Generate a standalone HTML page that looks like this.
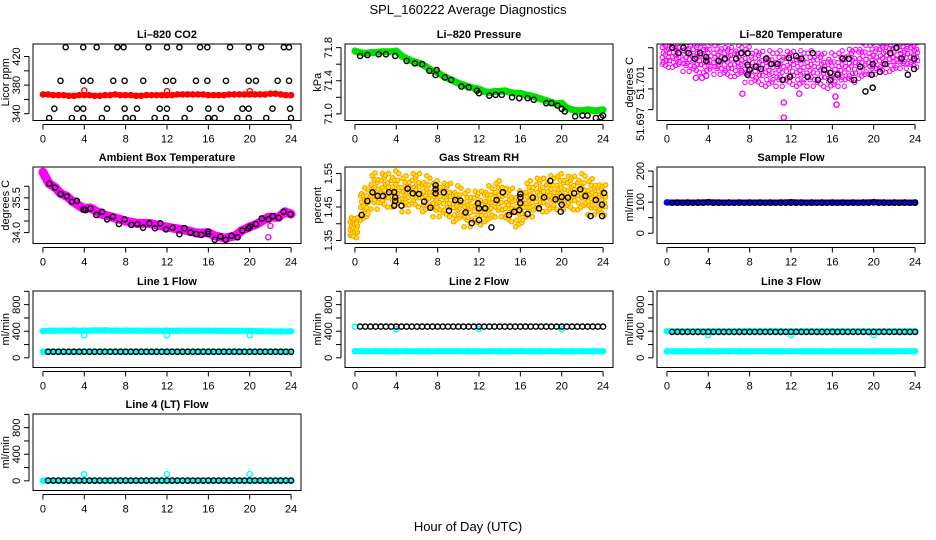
<!DOCTYPE html>
<html><head><meta charset="utf-8"><style>
html,body{margin:0;padding:0;background:#fff;}
svg{display:block;font-family:"Liberation Sans",Arial,sans-serif;}
</style></head><body>
<svg id="chart" width="936" height="540" viewBox="0 0 936 540">
<text x="468" y="14" text-anchor="middle" font-size="13">SPL_160222  Average Diagnostics</text>
<text x="468" y="531" text-anchor="middle" font-size="13">Hour of Day (UTC)</text>
</svg>
<script>
// ---- data ----
const xTicks = [0,4,8,12,16,20,24];
// Li-820 CO2
const co2BlackHours = [2.2,3.9,5.2,7.2,7.8,10.2,12.0,13.2,15.2,15.9,18.1,19.9,21.1,23.3,23.8,
 1.7,3.9,4.6,6.8,7.9,9.7,11.9,12.6,14.8,15.9,17.7,19.9,20.6,22.7,23.8,
 1.1,3.3,3.9,6.2,7.9,9.1,11.3,12.0,14.2,16.0,17.2,19.3,19.9,22.2,23.9,
 0.6,2.8,3.9,5.7,8.0,8.7,10.8,11.9,13.7,16.0,16.6,18.8,19.9,21.6,24.0];
const co2BlackVals = [433,433,433,433,433,433,433,433,433,433,433,433,433,433,433,
 386,386,386,386,386,386,386,386,386,386,386,386,386,386,386,
 347,347,347,347,347,347,347,347,347,347,347,347,347,347,347,
 334,334,334,334,334,334,334,334,334,334,334,334,334,334,334];
const co2Red = [367,367,366,366,366,365,365,366,366,366,365,365,366,366,367,366,366,366,365,365,366,366,366,366,366,366,367,367,367,367,367,367,366,366,366,366,367,367,367,367,367,367,367,367,368,368,367,366,366];
const co2RedOutHours = [4,12,20];
const co2RedOutVals = [372.6,371.5,371.5];
// Li-820 Pressure (green every 0.5 h)
const presGreen = [71.76,71.74,71.73,71.74,71.74,71.75,71.75,71.75,71.76,71.70,71.67,71.64,71.62,71.60,71.56,71.52,71.50,71.46,71.43,71.40,71.37,71.35,71.33,71.31,71.30,71.27,71.26,71.27,71.27,71.28,71.26,71.25,71.25,71.23,71.22,71.20,71.18,71.16,71.14,71.12,71.13,71.07,71.05,71.04,71.04,71.05,71.04,71.04,71.05];
const presBlackHours = [0.5,1.2,2.3,3,3.9,5,5.8,6.5,7.2,7.8,7.9,8.7,9.3,10.3,11,11.8,12,13,13.6,14.2,15.2,15.9,16.7,17.3,18.5,19,19.6,20,20.3,21.3,22,22.5,23.3,23.8,24];
const presBlackVals = [71.70,71.71,71.72,71.72,71.70,71.64,71.61,71.60,71.52,71.47,71.53,71.44,71.41,71.33,71.32,71.28,71.25,71.22,71.23,71.23,71.20,71.19,71.19,71.17,71.13,71.13,71.10,71.06,71.03,70.97,70.98,70.98,70.95,70.96,70.98];
// Li-820 Temperature (magenta hourly centers)
const tempMagenta = [51.70065,51.70065,51.70055,51.7005,51.7005,51.70041,51.70031,51.70031,51.70012,51.70002,51.69993,51.69993,51.70002,51.69993,51.69993,51.69993,51.69983,51.69993,51.70012,51.70031,51.70041,51.7005,51.70055,51.7006,51.70065];
const tempMagentaSpread = [0.0006,0.0006,0.0007,0.0007,0.0007,0.0007,0.0007,0.0007,0.0008,0.0008,0.0008,0.0008,0.0008,0.0008,0.0008,0.0008,0.0008,0.0008,0.0008,0.0008,0.0007,0.0007,0.0007,0.0006,0.0006];
const tempMagOutHours = [2.8,3.4,3.8,7.3,11.3,11.3,12.8,16.4,16.3];
const tempMagOutVals = [51.69954,51.69954,51.69964,51.69877,51.69834,51.69761,51.69877,51.69824,51.69863];
const tempBlackHours = [0.5,1.1,1.6,2.1,2.7,3.2,3.8,3.8,5.0,5.6,6.7,7.2,7.8,7.8,7.8,8.0,8.6,9.1,9.6,10.1,10.7,11.2,11.8,11.9,12.5,13,13.6,14.1,14.6,15.2,15.8,15.8,16.5,17,17.6,18.1,18.7,19.2,19.8,19.9,19.9,20.6,21.1,21.6,22.2,22.7,23.3,23.9,23.9];
const tempBlackVals = [51.7010,51.70074,51.7010,51.70074,51.70047,51.70074,51.70055,51.70036,51.70036,51.70047,51.70047,51.70074,51.70074,51.70017,51.69969,51.69993,51.70008,51.69997,51.70047,51.70021,51.70021,51.69944,51.7005,51.69959,51.7006,51.70047,51.69959,51.70074,51.69944,51.69993,51.69978,51.69944,51.69969,51.70047,51.70047,51.69944,51.70008,51.69888,51.69969,51.70021,51.69906,51.69983,51.70021,51.70074,51.7010,51.70047,51.69969,51.69997,51.70047];
// Ambient box temperature
const ambHours = [0,0.6,1.2,1.7,2.3,2.8,3.9,4.6,5.7,6.9,8,9.1,10.3,11.4,12.6,13.7,15,16,16.6,17.6,18.6,19.2,19.9,20.7,21.8,22.8,23.4,24];
const ambMagenta = [36.61,36.11,35.94,35.69,35.57,35.37,35.04,35.06,34.79,34.64,34.5,34.40,34.40,34.29,34.19,34.11,33.97,34.0,33.86,33.76,33.86,34.08,34.23,34.37,34.66,34.66,34.9,34.8];
const ambMagOutHours = [21.8,22.0];
const ambMagOutVals = [33.8,34.29];
const ambBlackHours = [0.62,1.17,1.72,2.31,2.8,3.28,3.93,4.1,4.59,5.17,5.72,6.21,6.77,7.35,7.9,8.55,9.14,9.69,10.28,10.83,11.35,11.9,12.56,13.2,13.69,14.28,14.83,15.32,15.97,15.97,16.62,17.17,17.69,18.24,18.83,19.29,19.87,20.03,20.6,21.17,21.82,22.24,22.8,23.29,23.93];
const ambBlackVals = [36.11,35.94,35.66,35.57,35.33,35.37,35.0,34.97,35.04,34.76,34.9,34.57,34.69,34.37,34.57,34.33,34.37,34.21,34.4,34.19,34.4,34.14,34.21,33.93,34.19,34.0,33.94,33.9,34.04,33.94,33.69,33.83,33.69,33.86,33.80,34.09,34.19,34.26,34.37,34.61,34.57,34.71,34.64,34.9,34.79];
// Gas stream RH (hourly cloud centers)
const rhCloud = [1.388,1.456,1.494,1.5,1.5,1.486,1.5,1.486,1.471,1.471,1.456,1.441,1.447,1.456,1.471,1.456,1.441,1.471,1.486,1.486,1.492,1.492,1.492,1.477,1.471];
const rhSpread = [0.03,0.045,0.05,0.05,0.05,0.05,0.05,0.05,0.05,0.05,0.05,0.05,0.05,0.05,0.05,0.05,0.05,0.05,0.05,0.05,0.05,0.05,0.05,0.05,0.045];
const rhBlackHours = [0.65,1.2,1.7,2.2,2.7,3.3,3.8,3.9,3.9,3.8,4.5,5.1,5.6,6.2,6.7,7.3,7.8,7.8,7.8,8.6,9.1,9.7,10.2,10.7,11.3,11.9,12,12,12.6,13.2,13.7,14.3,14.9,15.4,15.9,16,16,16,16.7,17.2,17.8,18.3,18.9,19.4,19.9,20,20,20.6,21.2,21.8,22.3,22.8,23.3,23.9,23.9,24.1];
const rhBlackVals = [1.426,1.468,1.494,1.483,1.483,1.494,1.494,1.479,1.468,1.454,1.454,1.505,1.491,1.489,1.466,1.448,1.515,1.503,1.491,1.494,1.439,1.471,1.469,1.434,1.402,1.461,1.446,1.411,1.446,1.389,1.471,1.494,1.426,1.436,1.441,1.489,1.479,1.462,1.429,1.478,1.446,1.479,1.528,1.473,1.436,1.480,1.457,1.478,1.491,1.503,1.483,1.423,1.471,1.423,1.457,1.492];
// Flows: hourly bands, black every 0.5 h starting 0.5
const sampleBlue = [99,99,99,99,100,99,99,99,99,99,99,99,100,99,99,99,99,99,99,99,100,99,99,99,99];
const sampleBlack = [98,98,98,98,98,98,98,99,98,98,98,98,98,98,98,98,98,98,98,98,98,98,98,98,98,98,98,98,98,98,98,98,98,98,98,98,98,98,98,99,98,98,98,98,98,98,98,98];
const line1Cyan = [405,408,410,410,410,412,412,410,410,410,408,408,408,408,408,408,408,405,405,405,405,400,398,398,398];
const line1CyanLow = [92,92,92,92,92,92,92,92,92,92,92,92,92,92,92,92,92,92,92,92,92,92,92,92,92];
const line1Black = [92,92,92,92,92,92,92,92,92,92,92,92,92,92,92,92,92,92,92,92,92,92,92,92,92,92,92,92,92,92,92,92,92,92,92,92,92,92,92,92,92,92,92,92,92,92,92,92];
const line1OutHours = [4,12,20];
const line1OutVals = [340,340,340];
const line2Cyan = [100,100,100,100,100,100,100,100,100,100,100,100,100,100,100,100,100,100,100,100,100,100,100,100,100];
const line2Black = [470,470,470,470,470,470,470,470,470,470,470,470,470,470,470,470,470,470,470,470,470,470,470,470,470,470,470,470,470,470,470,470,470,470,470,470,470,470,470,470,470,470,470,470,470,470,470,470];
const line2OutHours = [0,4,12,20];
const line2OutVals = [470,430,430,430];
const line3Cyan = [98,98,98,98,98,98,98,98,98,98,98,98,98,98,98,98,98,98,98,98,98,98,98,98,98];
const line3CyanHigh = [400,400,400,400,400,400,400,400,400,400,400,400,400,400,400,400,400,400,400,400,400,400,400,400,400];
const line3Black = [390,390,390,390,390,390,390,390,390,390,390,390,390,390,390,390,390,390,390,390,390,390,390,390,390,390,390,390,390,390,390,390,390,390,390,390,390,390,390,390,390,390,390,390,390,390,390,390];
const line3OutHours = [4,12,20];
const line3OutVals = [345,345,345];
const line4Cyan = [2,2,2,2,2,2,2,2,2,2,2,2,2,2,2,2,2,2,2,2,2,2,2,2,2];
const line4Black = [5,5,5,5,5,5,5,5,5,5,5,5,5,5,5,5,5,5,5,5,5,5,5,5,5,5,5,5,5,5,5,5,5,5,5,5,5,5,5,5,5,5,5,5,5,5,5,5];
const line4OutHours = [4,12,20];
const line4OutVals = [100,100,100];

// ---- layout ----
const NS = 'http://www.w3.org/2000/svg';
const svg = document.getElementById('chart');
const colL = [33, 345, 657], W = 268;
const rowT = [44, 167, 291, 414], H = 76.5;
const XD = [-0.96, 24.96];
function el(tag, attrs, parent){const e=document.createElementNS(NS,tag);for(const k in attrs)e.setAttribute(k,attrs[k]);(parent||svg).appendChild(e);return e;}

function makePanel(idx, cfg){
  const L = colL[idx%3], T = rowT[Math.floor(idx/3)];
  const g = el('g', {});
  
  
  const sx = h => L + (h - XD[0]) / (XD[1]-XD[0]) * W;
  const sy = v => T + H - (v - cfg.yd[0]) / (cfg.yd[1]-cfg.yd[0]) * H;
  const clipId = 'clip'+idx;
  const cp = el('clipPath', {id: clipId}, g);
  el('rect', {x:L, y:T, width:W, height:H}, cp);
  const plot = el('g', {'clip-path':'url(#'+clipId+')'}, g);
  
  
  const t = el('text', {x:L+W/2, y:T-6, 'text-anchor':'middle', 'font-size':11, 'font-weight':'bold'}, g);
  t.textContent = cfg.title;
  
  
  const b = el('rect', {x:L, y:T, width:W, height:H, fill:'none', stroke:'#000', 'stroke-width':1}, g);
  
  
  const xa = el('g', {}, g);
  
  
  const yb = T+H+4;
  el('line', {x1:sx(0), x2:sx(24), y1:yb, y2:yb, stroke:'#000'}, xa);
  xTicks.forEach(v=>{
    el('line', {x1:sx(v), x2:sx(v), y1:yb, y2:yb+5, stroke:'#000'}, xa);
    const tx = el('text', {x:sx(v), y:yb+18, 'text-anchor':'middle', 'font-size':11}, xa);
    tx.textContent = v;
    
    
  });
  const ya = el('g', {}, g);
  
  
  const xl = L-4;
  el('line', {x1:xl, x2:xl, y1:sy(cfg.yt[0]), y2:sy(cfg.yt[cfg.yt.length-1]), stroke:'#000'}, ya);
  cfg.yt.forEach(v=>{ el('line', {x1:xl-5, x2:xl, y1:sy(v), y2:sy(v), stroke:'#000'}, ya); });
  cfg.yl.forEach((v,i)=>{
    const yy = sy(cfg.ylPos ? cfg.ylPos[i] : v);
    const tx = el('text', {x:L-13, y:yy, 'text-anchor':'middle', 'font-size':11, transform:'rotate(-90 '+(L-13)+' '+yy+')'}, ya);
    tx.textContent = cfg.ylText ? cfg.ylText[i] : v;
    
    
  });
  const yt = el('text', {x:L-24, y:T+H/2, 'text-anchor':'middle', 'font-size':11, transform:'rotate(-90 '+(L-24)+' '+(T+H/2)+')'}, ya);
  yt.textContent = cfg.ytitle;
  
  
  return {sx, sy, plot};
}
function pts(p, hours, vals, color, opts){
  opts = opts||{};
  const g = el('g', {}, p.plot);
  
  
  for(let i=0;i<vals.length;i++){
    const c = el('circle', {cx:p.sx(hours[i]), cy:p.sy(vals[i]), r:opts.r||2.6, fill:opts.fill||'none', stroke:color, 'stroke-width':opts.sw||1.4}, g);
    
    
  }
}
function band(p, vals, step, color, width, name, start){
  start = start||0;
  const g = el('g', {}, p.plot);
  
  
  const d = vals.map((v,i)=>p.sx(start+i*step).toFixed(1)+','+p.sy(v).toFixed(1)).join(' ');
  el('polyline', {points:d, fill:'none', stroke:color, 'stroke-width':width, 'stroke-linejoin':'round', 'stroke-linecap':'round'}, g);
  vals.forEach((v,i)=>{
    const c = el('circle', {cx:p.sx(start+i*step), cy:p.sy(v), r:2.6, fill:'none', stroke:color, 'stroke-width':1.4}, g);
    
    
  });
}
function cloud(p, centers, spreads, stroke, fill, name){
  const g = el('g', {}, p.plot);
  
  
  const fr = [-1,-0.6,-0.2,0.2,0.6,1];
  const hf = [-0.45,-0.15,0.15];
  centers.forEach((c,i)=>{
    hf.forEach((dh,j)=>{
      fr.forEach((f,k)=>{
        const ff = f*((j+k+i)%3===0?0.75:1) + (j%2?0.15:0);
        const cc = el('circle', {cx:p.sx(i+dh+((k%2)?0.1:0)), cy:p.sy(c+ff*spreads[i]), r:2.2, fill:fill, stroke:stroke, 'stroke-width':1.1}, g);
        
        
      });
    });
  });
}
const idxHours = (n, start, step) => { const a=[]; for(let i=0;i<n;i++) a.push(start+i*step); return a; };

let p = makePanel(0, {name:'co2-panel', title:'Li\u2013820 CO2', ytitle:'Licor ppm', yd:[330.5,437.5], yt:[340,360,380,400,420], yl:[340,380,420]});
band(p, co2Red, 0.5, '#ff0000', 5, 'co2-red-series');
pts(p, co2RedOutHours, co2RedOutVals, '#ff0000', {name:'co2-red-outliers'});
pts(p, co2BlackHours, co2BlackVals, '#000', {name:'co2-black-series'});

p = makePanel(1, {name:'pressure-panel', title:'Li\u2013820 Pressure', ytitle:'kPa', yd:[70.92,71.844], yt:[71.0,71.2,71.4,71.6,71.8], yl:[71.0,71.4,71.8], ylText:['71.0','71.4','71.8']});
band(p, presGreen, 0.5, '#00e000', 7, 'pressure-green-series');
pts(p, presBlackHours, presBlackVals, '#000', {name:'pressure-black-series'});

p = makePanel(2, {name:'li820-temp-panel', title:'Li\u2013820 Temperature', ytitle:'degrees C', yd:[51.69747,51.70118], yt:[51.698,51.699,51.700,51.701], yl:[0,1], ylPos:[51.6973,51.6993], ylText:['51.697','51.701']});
cloud(p, tempMagenta, tempMagentaSpread, '#ff00ff', 'none', 'li820-temp-magenta-series');
pts(p, tempMagOutHours, tempMagOutVals, '#ff00ff', {name:'li820-temp-magenta-outliers'});
pts(p, tempBlackHours, tempBlackVals, '#000', {name:'li820-temp-black-series'});

p = makePanel(3, {name:'ambient-temp-panel', title:'Ambient Box Temperature', ytitle:'degrees C', yd:[33.53,36.83], yt:[34,34.5,35,35.5,36], yl:[34,35.5], ylText:['34.0','35.5']});
(function(){
  const g = el('g', {}, p.plot);
  
  
  el('polyline', {points: ambHours.map((h,i)=>p.sx(h)+','+p.sy(ambMagenta[i])).join(' '), fill:'none', stroke:'#ff00ff', 'stroke-width':9, 'stroke-linejoin':'round', 'stroke-linecap':'round'}, g);
})();
pts(p, ambMagOutHours, ambMagOutVals, '#ff00ff', {name:'ambient-magenta-outliers'});
pts(p, ambBlackHours, ambBlackVals, '#000', {name:'ambient-black-series'});

p = makePanel(4, {name:'rh-panel', title:'Gas Stream RH', ytitle:'percent', yd:[1.341,1.5696], yt:[1.35,1.40,1.45,1.50,1.55], yl:[1.35,1.45,1.55]});
cloud(p, rhCloud, rhSpread, '#ff9900', '#ffee00', 'rh-orange-series');
pts(p, rhBlackHours, rhBlackVals, '#000', {name:'rh-black-series'});

p = makePanel(5, {name:'sample-flow-panel', title:'Sample Flow', ytitle:'ml/min', yd:[-33,213], yt:[0,50,100,150,200], yl:[0,100,200]});
band(p, sampleBlue, 1, '#0000ff', 6, 'sample-flow-blue-series');
pts(p, idxHours(sampleBlack.length, 0.5, 0.5), sampleBlack, '#000', {name:'sample-flow-black-series'});

const flowCfg = {yd:[-145,1005], yt:[0,200,400,600,800,1000], yl:[0,400,800], ytitle:'ml/min'};
p = makePanel(6, Object.assign({name:'line1-flow-panel', title:'Line 1 Flow'}, flowCfg));
band(p, line1Cyan, 1, '#00ffff', 6, 'line1-cyan-series');
band(p, line1CyanLow, 1, '#00ffff', 6, 'line1-cyan-low-series');
pts(p, line1OutHours, line1OutVals, '#00ffff', {name:'line1-cyan-outliers'});
pts(p, idxHours(line1Black.length, 0.5, 0.5), line1Black, '#000', {name:'line1-black-series'});
p = makePanel(7, Object.assign({name:'line2-flow-panel', title:'Line 2 Flow'}, flowCfg));
band(p, line2Cyan, 1, '#00ffff', 6, 'line2-cyan-series');
pts(p, line2OutHours, line2OutVals, '#00ffff', {name:'line2-cyan-outliers'});
pts(p, idxHours(line2Black.length, 0.5, 0.5), line2Black, '#000', {name:'line2-black-series'});
p = makePanel(8, Object.assign({name:'line3-flow-panel', title:'Line 3 Flow'}, flowCfg));
band(p, line3Cyan, 1, '#00ffff', 6, 'line3-cyan-series');
band(p, line3CyanHigh, 1, '#00ffff', 6, 'line3-cyan-high-series');
pts(p, line3OutHours, line3OutVals, '#00ffff', {name:'line3-cyan-outliers'});
pts(p, idxHours(line3Black.length, 0.5, 0.5), line3Black, '#000', {name:'line3-black-series'});
p = makePanel(9, Object.assign({name:'line4-flow-panel', title:'Line 4 (LT) Flow'}, flowCfg));
band(p, line4Cyan, 1, '#00ffff', 6, 'line4-cyan-series');
pts(p, line4OutHours, line4OutVals, '#00ffff', {name:'line4-cyan-outliers'});
pts(p, idxHours(line4Black.length, 0.5, 0.5), line4Black, '#000', {name:'line4-black-series'});
</script>
</body></html>
